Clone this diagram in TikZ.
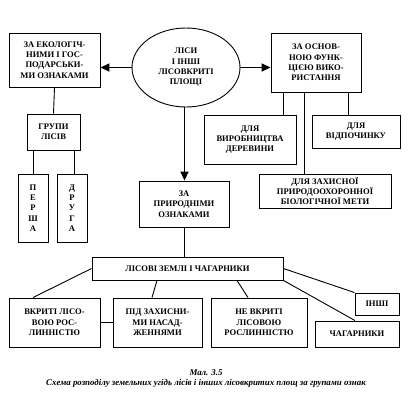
\documentclass[tikz,border=0pt]{standalone}
\usepackage{fontspec}
\setmainfont{Liberation Serif}
\usetikzlibrary{arrows.meta,shapes.geometric}
\begin{document}
\begin{tikzpicture}[x=1bp,y=-1bp,
  box/.style={draw,line width=0.9bp,rectangle,align=center,inner sep=1bp,
    font=\fontsize{8.6}{10.4}\selectfont\bfseries},
  conn/.style={line width=0.9bp},
  arr/.style={line width=1.7bp,-{Triangle[length=9bp,width=8bp]}},
  captext/.style={font=\fontsize{8.9}{10}\selectfont\bfseries\itshape}]
\useasboundingbox (0,0) rectangle (413,400);
\node[box,minimum width=91bp,minimum height=54bp] (A) at (54.5,60) {ЗА ЕКОЛОГІЧ-\\НИМИ І ГОС-\\ПОДАРСЬКИ-\\МИ ОЗНАКАМИ};
\node[box,ellipse,minimum width=108bp,minimum height=79bp,inner sep=-8bp] (E) at (186,67.5) {ЛІСИ\\І ІНШІ\\ЛІСОВКРИТІ\\ПЛОЩІ};
\node[box,minimum width=90bp,minimum height=59bp] (B) at (316,62.5) {ЗА ОСНОВ-\\НОЮ ФУНК-\\ЦІЄЮ ВИКО-\\РИСТАННЯ};
\node[box,minimum width=53bp,minimum height=36bp] (G) at (53.5,132) {ГРУПИ\\ЛІСІВ};
\node[box,minimum width=30bp,minimum height=68bp] (P1) at (33,208) {П\\Е\\Р\\Ш\\А};
\node[box,minimum width=30bp,minimum height=68bp] (P2) at (72,208) {Д\\Р\\У\\Г\\А};
\node[box,minimum width=90bp,minimum height=46bp] (N) at (184,204) {ЗА\\ПРИРОДНІМИ\\ОЗНАКАМИ};
\node[box,minimum width=92bp,minimum height=49bp] (V) at (250,139.5) {ДЛЯ\\ВИРОБНИЦТВА\\ДЕРЕВИНИ};
\node[box,minimum width=88bp,minimum height=33bp] (R) at (356,131.5) {ДЛЯ\\ВІДПОЧИНКУ};
\node[box,minimum width=132bp,minimum height=34bp] (Z) at (325,191) {ДЛЯ ЗАХИСНОЇ\\ПРИРОДООХОРОННОЇ\\БІОЛОГІЧНОЇ МЕТИ};
\node[box,minimum width=191bp,minimum height=23bp] (L) at (187.5,268.5) {ЛІСОВІ ЗЕМЛІ І ЧАГАРНИКИ};
\node[box,minimum width=91bp,minimum height=49bp] (K1) at (54.5,322.5) {ВКРИТІ ЛІСО-\\ВОЮ РОС-\\ЛИННІСТЮ};
\node[box,minimum width=89bp,minimum height=49bp] (K2) at (157.5,322.5) {ПІД ЗАХИСНИ-\\МИ НАСАД-\\ЖЕННЯМИ};
\node[box,minimum width=96bp,minimum height=49bp] (K3) at (259,322.5) {НЕ ВКРИТІ\\ЛІСОВОЮ\\РОСЛИННІСТЮ};
\node[box,minimum width=84bp,minimum height=26bp] (K4) at (357,334) {ЧАГАРНИКИ};
\node[box,minimum width=44bp,minimum height=22bp] (K5) at (377,304) {ІНШІ};
% arrows
\draw[arr] (E.west) -- (E.west -| A.east);
\draw[arr] (E.east) -- (E.east -| B.west);
\draw[arr] ([xshift=-1.5bp]E.south) -- ([xshift=-1.5bp]E.south |- N.north);
% connectors
\draw[conn] (A.south) -- (G.north);
\draw[conn] (G.south -| P1.north) -- (P1.north);
\draw[conn] ([xshift=2bp]G.south -| P2.north) -- ([xshift=2bp]P2.north);
\draw[conn] ([xshift=-33bp]B.south) -- ([xshift=-33bp]B.south |- V.north);
\draw[conn] ([xshift=-12bp]B.south) -- ([xshift=-12bp]B.south |- Z.north);
\draw[conn] ([xshift=32bp]B.south) -- ([xshift=32bp]B.south |- R.north);
\draw[conn] ([xshift=-3bp]L.north) -- ([xshift=-3bp]L.north |- N.south);
\draw[conn] (L.west) -- ([xshift=-21.5bp]K1.north);
\draw[conn] ([xshift=-30.5bp]L.south) -- ([xshift=-5.5bp]K2.north);
\draw[conn] ([xshift=49.5bp]L.south) -- ([xshift=-11bp]K3.north);
\draw[conn] (L.south east) -- ([xshift=-2bp]K4.north);
\draw[conn] (L.east) -- (K5.north west);
\draw[conn] (K1.east) -- (K2.west);
% caption
\node[captext] (C1) at (206,373) {Мал. 3.5};
\node[captext] (C2) at (206,383) {Схема розподілу земельних угідь лісів і інших лісовкритих площ за групами ознак};
\end{tikzpicture}
\end{document}
